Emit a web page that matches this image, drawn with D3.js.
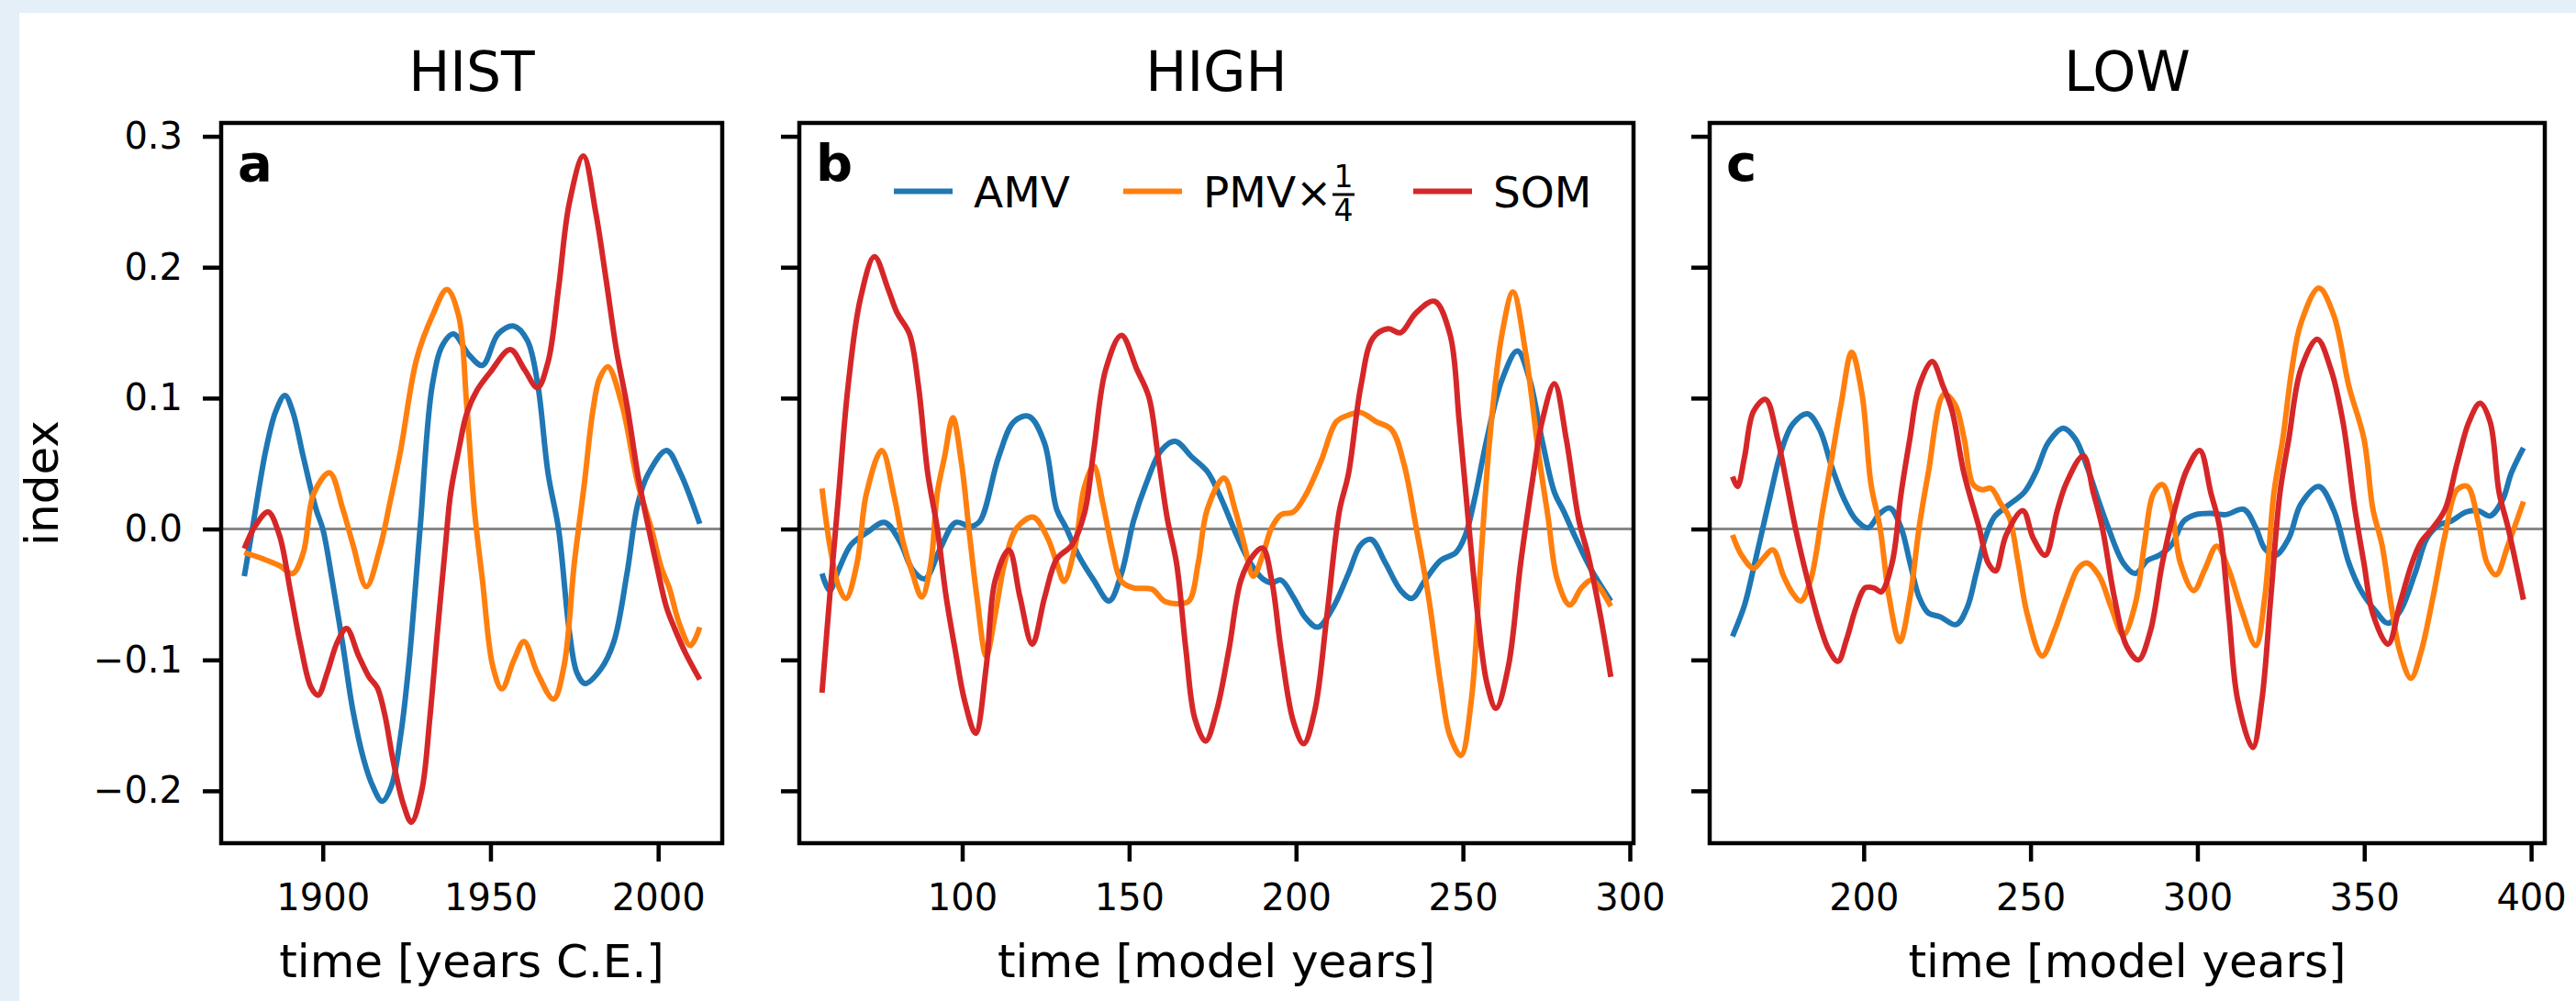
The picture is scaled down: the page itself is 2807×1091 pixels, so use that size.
<!DOCTYPE html>
<html>
<head>
<meta charset="utf-8">
<script src="https://cdn.jsdelivr.net/npm/d3@7"></script>
<style>
  body { margin: 0; background: #e4eff7; }
  text { font-family: "DejaVu Sans", sans-serif; fill: #000; }
</style>
</head>
<body>
<div id="chart"></div>
<script>
// ---- data: [time, index] ----
var histAmv = [[1876.6,-0.036],[1879,0.0],[1883,0.06],[1886,0.09],[1888.7,0.102],[1891,0.09],[1894.2,0.055],[1898,0.015],[1900,0.0],[1902.8,-0.039],[1906,-0.089],[1909,-0.139],[1912.2,-0.176],[1915,-0.197],[1917.7,-0.208],[1920.5,-0.196],[1923.2,-0.158],[1925.6,-0.105],[1929,0.0],[1932.6,0.109],[1935.8,0.141],[1939,0.149],[1943.6,0.133],[1947.6,0.125],[1952.3,0.149],[1957,0.155],[1961,0.144],[1964,0.112],[1967.2,0.042],[1970.3,0.0],[1973.5,-0.078],[1975.8,-0.11],[1978.2,-0.118],[1982.9,-0.107],[1986.8,-0.086],[1990.7,-0.034],[1993.9,0.019],[1997,0.042],[2002.5,0.06],[2006.4,0.044],[2012.4,0.004]];
var histPmv = [[1876.6,-0.018],[1882.4,-0.023],[1887.1,-0.028],[1891,-0.034],[1894.2,-0.018],[1897.3,0.027],[1902,0.043],[1906,0.015],[1909,-0.012],[1913,-0.044],[1917,-0.015],[1920,0.02],[1923.2,0.06],[1928,0.13],[1932.7,0.163],[1937,0.183],[1940.5,0.163],[1942.9,0.095],[1945.2,0.015],[1947.6,-0.039],[1950.7,-0.105],[1953.4,-0.122],[1957,-0.1],[1960,-0.086],[1964,-0.11],[1968.8,-0.13],[1971.9,-0.105],[1975,-0.026],[1978,0.035],[1980.5,0.09],[1982.5,0.115],[1985,0.124],[1989.2,0.095],[1994,0.034],[1998,0.0],[2001,-0.03],[2003.3,-0.045],[2006.4,-0.073],[2009.6,-0.089],[2012.4,-0.075]];
var histSom = [[1876.6,-0.015],[1880,0.003],[1883.7,0.013],[1887.1,-0.005],[1890.3,-0.047],[1893.4,-0.089],[1896.5,-0.121],[1898.6,-0.127],[1901.3,-0.11],[1904.4,-0.086],[1907.1,-0.076],[1910.7,-0.097],[1913.8,-0.113],[1916.2,-0.121],[1918.5,-0.142],[1920.9,-0.176],[1924,-0.21],[1926.4,-0.224],[1929.5,-0.2],[1931.9,-0.145],[1934.2,-0.078],[1936.6,-0.012],[1938.1,0.027],[1940.5,0.06],[1942.9,0.088],[1946,0.106],[1950,0.12],[1955.9,0.137],[1960.1,0.122],[1964,0.108],[1967.2,0.128],[1970.3,0.184],[1973.5,0.249],[1977.7,0.285],[1981.3,0.243],[1984.5,0.19],[1987.6,0.136],[1990.8,0.093],[1993.9,0.042],[1996.2,0.012],[1999.4,-0.026],[2002.5,-0.06],[2004.9,-0.076],[2008,-0.094],[2012.4,-0.115]];

var highAmv = [[58,-0.034],[60.3,-0.047],[63,-0.031],[66.7,-0.012],[71.3,-0.003],[76.8,0.005],[81.4,-0.01],[85.1,-0.031],[88.8,-0.038],[93.4,-0.015],[98,0.005],[102.6,0.002],[105.3,0.006],[110.9,0.055],[115.5,0.082],[120,0.086],[124.6,0.066],[128.3,0.015],[131.1,0.001],[134.8,-0.02],[139.4,-0.039],[144,-0.055],[147.7,-0.034],[151.3,0.006],[155,0.034],[159.6,0.06],[163.8,0.067],[168.8,0.055],[173.4,0.044],[177.1,0.026],[182.6,-0.007],[186.3,-0.026],[190,-0.038],[192.7,-0.041],[195.5,-0.039],[199.2,-0.052],[202.9,-0.068],[206.5,-0.075],[211.1,-0.06],[215.7,-0.034],[219.4,-0.012],[222.5,-0.008],[226.8,-0.026],[231.4,-0.047],[234.7,-0.053],[238.7,-0.039],[243.3,-0.024],[247.9,-0.018],[250.7,-0.005],[253.5,0.023],[257.1,0.068],[261.7,0.114],[266.3,0.136],[270,0.114],[273.7,0.068],[277.4,0.028],[280.1,0.014],[283.8,-0.007],[288.4,-0.031],[294.3,-0.055]];
var highPmv = [[58,0.031],[60.3,-0.012],[63,-0.044],[65.2,-0.053],[68.5,-0.026],[71.3,0.027],[75.9,0.06],[79.6,0.025],[82.3,-0.01],[85.1,-0.034],[87.9,-0.052],[90.6,-0.026],[92.5,0.027],[94.7,0.055],[97.2,0.085],[99.8,0.05],[102,0.0],[104.4,-0.052],[107.2,-0.097],[109.9,-0.065],[112.7,-0.026],[116.4,0.001],[121.3,0.009],[125.6,-0.007],[128.3,-0.026],[130.5,-0.04],[133.9,-0.012],[136.6,0.032],[139.4,0.048],[142.1,0.02],[144.9,-0.015],[147.7,-0.04],[151.3,-0.045],[156.9,-0.046],[160.5,-0.055],[164.2,-0.057],[167.9,-0.055],[170.7,-0.026],[173.4,0.015],[178.4,0.039],[181.7,0.015],[184.5,-0.012],[187.2,-0.036],[190,-0.02],[192.7,0.001],[195.5,0.011],[199.2,0.013],[202.9,0.026],[207.5,0.052],[212.1,0.082],[215.7,0.087],[219.4,0.089],[224,0.082],[228.6,0.076],[232.3,0.05],[236,0.001],[239.7,-0.052],[243.3,-0.118],[246.1,-0.158],[249.4,-0.173],[252.5,-0.131],[255.3,-0.026],[258,0.068],[261.7,0.149],[265,0.181],[268.7,0.136],[272.8,0.055],[275.5,0.009],[278.3,-0.039],[282,-0.058],[285.5,-0.045],[288.4,-0.039],[291,-0.045],[294.3,-0.059]];
var highSom = [[58,-0.125],[60.3,-0.052],[63,0.027],[65.8,0.109],[69.5,0.176],[73.7,0.208],[77.7,0.184],[80.5,0.165],[84.2,0.149],[86.9,0.109],[89.7,0.042],[92.5,0.001],[95.2,-0.052],[98,-0.094],[100.7,-0.131],[104,-0.156],[107.2,-0.105],[109.9,-0.039],[114,-0.016],[117.3,-0.052],[121,-0.088],[124.7,-0.052],[128.3,-0.023],[132.9,-0.012],[136.6,0.012],[139.4,0.06],[143,0.122],[147.7,0.148],[152.3,0.122],[155.9,0.101],[158.7,0.055],[161.5,0.007],[164.2,-0.026],[167,-0.092],[169.7,-0.145],[172.9,-0.162],[176.2,-0.139],[179.9,-0.092],[183.5,-0.039],[187.2,-0.02],[190,-0.0145],[192.7,-0.039],[195.5,-0.092],[199.2,-0.147],[202.3,-0.164],[205.6,-0.139],[209.3,-0.065],[213,0.014],[215.7,0.042],[219.4,0.109],[223.1,0.146],[227.6,0.153],[231.3,0.15],[235.9,0.165],[241.5,0.174],[246.1,0.149],[248.9,0.082],[251.6,0.007],[254.4,-0.065],[257.2,-0.118],[259.9,-0.137],[263.6,-0.105],[267.3,-0.026],[271,0.04],[273.7,0.082],[277.4,0.111],[281,0.068],[284.7,0.007],[287.5,-0.02],[291.1,-0.065],[294.3,-0.113]];

var lowAmv = [[160.7,-0.082],[164.3,-0.058],[167,-0.03],[169.7,0.0],[172.4,0.03],[175.1,0.058],[178.7,0.08],[183.2,0.088],[186.8,0.076],[190.5,0.047],[194.1,0.023],[197.7,0.007],[201.3,0.001],[204.9,0.012],[207.9,0.016],[211.2,0.001],[213.9,-0.026],[216.6,-0.052],[219.3,-0.064],[222.9,-0.067],[227.7,-0.073],[231,-0.06],[233.7,-0.034],[236.4,-0.007],[239.1,0.009],[242.7,0.017],[248.1,0.028],[251.7,0.044],[255.3,0.066],[259.8,0.077],[263.4,0.069],[267,0.047],[270.6,0.02],[273,0.003],[277.8,-0.026],[281.4,-0.034],[285,-0.024],[288.6,-0.02],[292.3,-0.012],[295.9,0.006],[299.5,0.011],[304,0.012],[308.5,0.011],[313.9,0.015],[317.5,0.001],[320.2,-0.015],[323.4,-0.02],[327.4,-0.007],[331,0.019],[336.4,0.0325],[340.9,0.014],[345.4,-0.026],[349,-0.047],[353.5,-0.063],[357.1,-0.072],[360.7,-0.063],[365.2,-0.034],[368.8,-0.007],[372.4,0.003],[376,0.006],[380.5,0.013],[384.1,0.014],[387.7,0.01],[391.4,0.022],[394.1,0.043],[397.7,0.062]];
var lowPmv = [[160.7,-0.0045],[163.4,-0.02],[167,-0.03],[169.7,-0.023],[172.8,-0.016],[176,-0.036],[178.7,-0.049],[181.1,-0.055],[184.1,-0.039],[187.7,0.014],[190.5,0.055],[193.2,0.095],[196.4,0.135],[199.5,0.103],[202.2,0.034],[204.9,0.001],[207.6,-0.052],[210.8,-0.086],[213.9,-0.052],[216.6,0.001],[219.3,0.042],[224.1,0.103],[227.4,0.095],[230.1,0.069],[232.8,0.034],[235.5,0.03],[238.2,0.031],[240.9,0.02],[243.6,0.009],[246.3,-0.026],[249,-0.065],[253.5,-0.097],[257.1,-0.078],[260.7,-0.052],[264.3,-0.03],[267,-0.026],[270.6,-0.036],[274.2,-0.06],[277.8,-0.081],[281.4,-0.057],[284.1,-0.012],[286.8,0.027],[289.5,0.034],[292.3,0.014],[294.9,-0.026],[298.9,-0.047],[302.2,-0.031],[305.8,-0.013],[309.4,-0.031],[313,-0.06],[317.5,-0.089],[320.2,-0.052],[322.9,0.027],[325.6,0.069],[328.3,0.122],[331,0.157],[336.4,0.184],[340.9,0.163],[345.4,0.109],[349.9,0.069],[352.6,0.015],[355.3,-0.012],[358,-0.057],[360.7,-0.094],[364,-0.114],[367,-0.094],[370.6,-0.052],[374.2,-0.0045],[377.8,0.03],[380.9,0.0325],[384.1,0.006],[386.8,-0.026],[389.5,-0.035],[393.1,-0.012],[397.7,0.021]];
var lowSom = [[160.7,0.04],[162.2,0.0325],[164.3,0.055],[167,0.09],[170.6,0.099],[174.2,0.069],[176.9,0.035],[179.6,0.0],[183.2,-0.039],[186.8,-0.073],[189.5,-0.092],[192.3,-0.101],[194.9,-0.084],[197.7,-0.06],[200.4,-0.045],[203.1,-0.045],[205.2,-0.048],[208.5,-0.026],[211.2,0.027],[213.9,0.07],[216.6,0.109],[220.5,0.128],[223.8,0.109],[226.5,0.09],[230.1,0.042],[234.6,0.001],[237.3,-0.026],[239.5,-0.032],[242.7,-0.0045],[247.7,0.014],[250.8,-0.007],[254.4,-0.02],[258,0.014],[260.7,0.035],[265.8,0.056],[268.8,0.028],[271.5,0.001],[275.1,-0.052],[278.7,-0.089],[282.3,-0.1],[285.9,-0.078],[289.5,-0.026],[293.2,0.015],[296.8,0.045],[300.7,0.06],[304,0.028],[306.7,0.001],[309.4,-0.065],[312.1,-0.131],[316.6,-0.167],[319.3,-0.131],[322,-0.052],[324.7,0.027],[327.4,0.069],[331,0.122],[335.9,0.145],[340,0.122],[343.6,0.082],[347.2,0.015],[349.9,-0.026],[352.6,-0.065],[357.1,-0.088],[360.7,-0.057],[364.3,-0.026],[367,-0.01],[370.6,0.001],[374.2,0.015],[377.8,0.05],[381.4,0.082],[384.7,0.096],[387.7,0.082],[390.4,0.028],[393.1,0.001],[397.7,-0.054]];

var panelTitles = ["HIST", "HIGH", "LOW"];
var panelLetters = ["a", "b", "c"];
var xLabels = ["time [years C.E.]", "time [model years]", "time [model years]"];
var xTicks = [[1900, 1950, 2000], [100, 150, 200, 250, 300], [200, 250, 300, 350, 400]];
var xDomains = [[1869.7, 2019.1], [51.2, 301.1], [153.85, 404.1]];
var yTicks = [-0.2, -0.1, 0.0, 0.1, 0.2, 0.3];
var seriesNames = ["AMV", "PMV", "SOM"];
var colors = ["#1f77b4", "#ff7f0e", "#d62728"];

var panelData = [
  [histAmv, histPmv, histSom],
  [highAmv, highPmv, highSom],
  [lowAmv, lowPmv, lowSom]
];

// ---- layout ----
var W = 2807, H = 1091;
var plotTop = 134, plotBottom = 919;
var panelX = [[241, 787], [871, 1780], [1863, 2773]];

var svg = d3.select("#chart")
  .append("svg")
    .attr("width", W)
    .attr("height", H);

svg.append("rect").attr("width", W).attr("height", H).attr("fill", "#e4eff7");
svg.append("rect").attr("x", 21).attr("y", 14)
  .attr("width", W - 21).attr("height", H - 14).attr("fill", "#ffffff");

var y = d3.scaleLinear().domain([-0.240, 0.3102]).range([plotBottom, plotTop]);

panelTitles.forEach(function(title, i) {
  var x0 = panelX[i][0], x1 = panelX[i][1];
  var x = d3.scaleLinear().domain(xDomains[i]).range([x0, x1]);
  var g = svg.append("g");

  // zero line
  g.append("line")
    .attr("x1", x0).attr("x2", x1)
    .attr("y1", y(0)).attr("y2", y(0))
    .attr("stroke", "#888888")
    .attr("stroke-width", 3);

  var line = d3.line()
    .x(function(d) { return x(d[0]); })
    .y(function(d) { return y(d[1]); })
    .curve(d3.curveCatmullRom.alpha(0.5));

  panelData[i].forEach(function(series, k) {
    g.append("path")
      .datum(series)
      .attr("d", line)
      .attr("fill", "none")
      .attr("stroke", colors[k])
      .attr("stroke-width", 6)
      .attr("stroke-linejoin", "round");
  });

  // x axis
  var xa = g.append("g")
    .attr("transform", "translate(0," + plotBottom + ")")
    .call(d3.axisBottom(x).tickValues(xTicks[i]).tickSize(20).tickPadding(25).tickFormat(d3.format("d")));
  // y axis
  var ya = g.append("g")
    .attr("transform", "translate(" + x0 + ",0)")
    .call(d3.axisLeft(y).tickValues(yTicks).tickSize(20).tickPadding(22)
      .tickFormat(i === 0 ? d3.format(".1f") : function() { return ""; }));

  [xa, ya].forEach(function(a) {
    a.select(".domain").remove();
    a.selectAll(".tick line").attr("stroke", "#000").attr("stroke-width", 4.5);
    a.selectAll(".tick text")
      .attr("font-size", "40px")
      .attr("font-family", "DejaVu Sans")
      .attr("fill", "#000");
  });

  // frame
  g.append("rect")
    .attr("x", x0).attr("y", plotTop)
    .attr("width", x1 - x0).attr("height", plotBottom - plotTop)
    .attr("fill", "none")
    .attr("stroke", "#000")
    .attr("stroke-width", 4.5);

  g.append("text")
    .attr("x", (x0 + x1) / 2)
    .attr("y", 99)
    .attr("text-anchor", "middle")
    .attr("font-size", "60px")
    .text(title);

  g.append("text")
    .attr("x", x0 + 18)
    .attr("y", 197)
    .attr("font-size", "56px")
    .attr("font-weight", "bold")
    .text(panelLetters[i]);

  g.append("text")
    .attr("x", (x0 + x1) / 2)
    .attr("y", 1065)
    .attr("text-anchor", "middle")
    .attr("font-size", "50px")
    .text(xLabels[i]);
});

// y label
svg.append("text")
  .attr("transform", "translate(63," + (plotTop + plotBottom) / 2 + ") rotate(-90)")
  .attr("text-anchor", "middle")
  .attr("font-size", "50px")
  .text("index");

// legend in panel b
var legendX = [974, 1224, 1540];
var legendY = 208.6;
var leg = svg.append("g");
seriesNames.forEach(function(name, k) {
  leg.append("line")
    .attr("x1", legendX[k]).attr("x2", legendX[k] + 64)
    .attr("y1", legendY).attr("y2", legendY)
    .attr("stroke", colors[k])
    .attr("stroke-width", 6);
  leg.append("text")
    .attr("x", legendX[k] + 87)
    .attr("y", 226)
    .attr("font-size", "47px")
    .text(k === 1 ? name + "\u00d7" : name);
});
// the 1/4 fraction after PMV×
var fx = 1464;
leg.append("text").attr("x", fx).attr("y", 204).attr("text-anchor", "middle")
  .attr("font-size", "33px").text("1");
leg.append("line").attr("x1", fx - 12).attr("x2", fx + 12)
  .attr("y1", 212).attr("y2", 212)
  .attr("stroke", "#000").attr("stroke-width", 3);
leg.append("text").attr("x", fx).attr("y", 241).attr("text-anchor", "middle")
  .attr("font-size", "33px").text("4");
</script>
</body>
</html>
